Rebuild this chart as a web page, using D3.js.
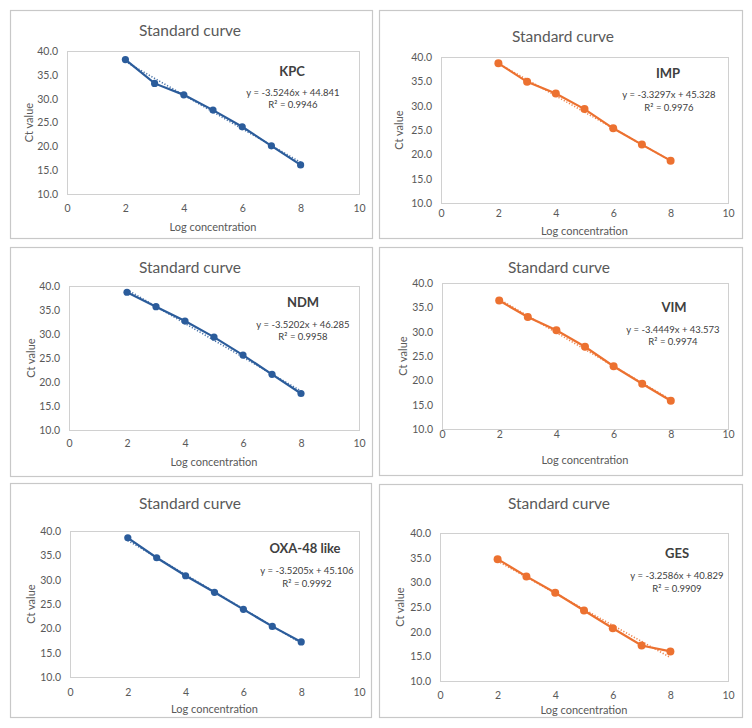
<!DOCTYPE html>
<html>
<head>
<meta charset="utf-8">
<script src="https://cdn.jsdelivr.net/npm/d3@7"></script>
<style>
  html, body { margin: 0; padding: 0; background: #fff; }
  svg { display: block; }
  text { font-family: Lato, "Open Sans", sans-serif; }
</style>
</head>
<body>
<svg id="chart" width="752" height="728"></svg>
<script>
// ---------- data ----------
const logConcentration = [2, 3, 4, 5, 6, 7, 8];
const genes = ["KPC", "IMP", "NDM", "VIM", "OXA-48 like", "GES"];
const ctKPC = [38.2, 33.2, 30.8, 27.6, 24.1, 20.1, 16.1];
const ctIMP = [38.7, 34.9, 32.5, 29.3, 25.35, 22.0, 18.7];
const ctNDM = [38.7, 35.7, 32.7, 29.35, 25.6, 21.6, 17.6];
const ctVIM = [36.4, 33.0, 30.3, 26.9, 22.9, 19.3, 15.8];
const ctOXA = [38.6, 34.5, 30.8, 27.4, 23.9, 20.4, 17.2];
const ctGES = [34.7, 31.2, 27.9, 24.3, 20.7, 17.2, 16.0];
const slopes = [-3.5246, -3.3297, -3.5202, -3.4449, -3.5205, -3.2586];
const intercepts = [44.841, 45.328, 46.285, 43.573, 45.106, 40.829];
const rSquared = ["0.9946", "0.9976", "0.9958", "0.9974", "0.9992", "0.9909"];
const xTicks = [0, 2, 4, 6, 8, 10];
const yTicks = [10, 15, 20, 25, 30, 35, 40];
const chartTitle = "Standard curve";
const xTitle = "Log concentration";
const yTitle = "Ct value";

const series = [ctKPC, ctIMP, ctNDM, ctVIM, ctOXA, ctGES];

// ---------- layout (positions/styles only) ----------
const BLUE = "#2B5C9B", ORANGE = "#EC7130";
const colors = [BLUE, ORANGE, BLUE, ORANGE, BLUE, ORANGE];
const layout = [
  {box:[10,10,372,238],  plot:[67,51,359,194],  titleY:30,  titleX:190, lab:[292,71],  eq:[293,92],  r2:104, xtY:208, xtitleY:226, ytitleX:28},
  {box:[379,10,742,238], plot:[441,57,728,203], titleY:36,  titleX:563, lab:[668,73],  eq:[669,94],  r2:107, xtY:213, xtitleY:230, ytitleX:398},
  {box:[10,247,372,476], plot:[69,286,359,430], titleY:267, titleX:190, lab:[303,302], eq:[303,324], r2:336, xtY:443, xtitleY:461, ytitleX:30},
  {box:[379,247,742,475],plot:[442,283,728,429],titleY:267, titleX:559, lab:[674,307], eq:[673,329], r2:341, xtY:434, xtitleY:459, ytitleX:402},
  {box:[10,483,371,717], plot:[70,531,359,677], titleY:503, titleX:190, lab:[305,548], eq:[307,570], r2:583, xtY:692, xtitleY:708, ytitleX:30},
  {box:[379,484,742,717],plot:[440,533,728,681],titleY:503, titleX:559, lab:[677,553], eq:[677,575], r2:588, xtY:695, xtitleY:709, ytitleX:399}
];

const svg = d3.select("#chart");
const TEXT = "#595959";

genes.forEach((gene, i) => {
  const L = layout[i];
  const col = colors[i];
  const g = svg.append("g");
  const [bx0, by0, bx1, by1] = L.box;
  g.append("rect").attr("x", bx0 + 0.5).attr("y", by0 + 0.5)
    .attr("width", bx1 - bx0).attr("height", by1 - by0)
    .attr("fill", "#fff").attr("stroke", "#C8C8C8").attr("stroke-width", 1.2);

  const [px0, py0, px1, py1] = L.plot;
  const x = d3.scaleLinear().domain([0, 10]).range([px0, px1]);
  const y = d3.scaleLinear().domain([10, 40]).range([py1, py0]);

  g.append("rect").attr("x", px0 + 0.5).attr("y", py0 + 0.5)
    .attr("width", px1 - px0).attr("height", py1 - py0)
    .attr("fill", "none").attr("stroke", "#D0D0D0").attr("stroke-width", 1);

  // axes (labels only, Excel style)
  const yAxis = d3.axisLeft(y).tickValues(yTicks).tickFormat(d3.format(".1f")).tickSize(0).tickPadding(9);
  const ya = g.append("g").attr("transform", `translate(${px0},0)`).call(yAxis);
  ya.select(".domain").remove();
  ya.selectAll("text").attr("fill", TEXT).style("font-size", "10.5px").style("font-family", "Lato, sans-serif");

  const xAxis = d3.axisBottom(x).tickValues(xTicks).tickFormat(d3.format("d")).tickSize(0).tickPadding(0);
  const xa = g.append("g").attr("transform", `translate(0,${L.xtY})`).call(xAxis);
  xa.select(".domain").remove();
  xa.selectAll("text").attr("fill", TEXT).attr("dy", "0.35em").attr("y", 0)
    .style("font-size", "10.5px").style("font-family", "Lato, sans-serif");

  // titles
  g.append("text").attr("x", L.titleX).attr("y", L.titleY).attr("text-anchor", "middle")
    .attr("dominant-baseline", "central").attr("fill", TEXT).style("font-size", "15.5px").text(chartTitle);
  g.append("text").attr("x", (px0 + px1) / 2).attr("y", L.xtitleY).attr("text-anchor", "middle")
    .attr("dominant-baseline", "central").attr("fill", TEXT).style("font-size", "11px").text(xTitle);
  g.append("text").attr("transform", `translate(${L.ytitleX},${(py0 + py1) / 2}) rotate(-90)`)
    .attr("text-anchor", "middle").attr("dominant-baseline", "central").attr("fill", TEXT)
    .style("font-size", "11px").text(yTitle);

  // trendline (dotted linear fit)
  const xs = d3.extent(logConcentration);
  g.append("line")
    .attr("x1", x(xs[0])).attr("y1", y(slopes[i] * xs[0] + intercepts[i]))
    .attr("x2", x(xs[1])).attr("y2", y(slopes[i] * xs[1] + intercepts[i]))
    .attr("stroke", col).attr("stroke-width", 1.6).attr("stroke-dasharray", "1.2,1.8")
    .attr("opacity", 0.85);

  // data line + markers
  const pts = logConcentration.map((c, k) => [c, series[i][k]]);
  g.append("path").datum(pts)
    .attr("d", d3.line().x(d => x(d[0])).y(d => y(d[1])))
    .attr("fill", "none").attr("stroke", col).attr("stroke-width", 2.2);
  g.selectAll("circle.pt").data(pts).join("circle")
    .attr("cx", d => x(d[0])).attr("cy", d => y(d[1]))
    .attr("r", col === BLUE ? 3.6 : 4.0).attr("fill", col);

  // annotations
  g.append("text").attr("x", L.lab[0]).attr("y", L.lab[1]).attr("text-anchor", "middle")
    .attr("dominant-baseline", "central").attr("fill", "#404040").style("font-weight", "bold")
    .style("font-size", "13px").text(gene);
  const sgn = intercepts[i] >= 0 ? "+" : "-";
  g.append("text").attr("x", L.eq[0]).attr("y", L.eq[1]).attr("text-anchor", "middle")
    .attr("dominant-baseline", "central").attr("fill", "#404040").style("font-size", "9.5px")
    .text(`y = ${slopes[i].toFixed(4)}x ${sgn} ${Math.abs(intercepts[i]).toFixed(3)}`);
  g.append("text").attr("x", L.eq[0]).attr("y", L.r2).attr("text-anchor", "middle")
    .attr("dominant-baseline", "central").attr("fill", "#404040").style("font-size", "9.5px")
    .text(`R² = ${rSquared[i]}`);
});
</script>
</body>
</html>
